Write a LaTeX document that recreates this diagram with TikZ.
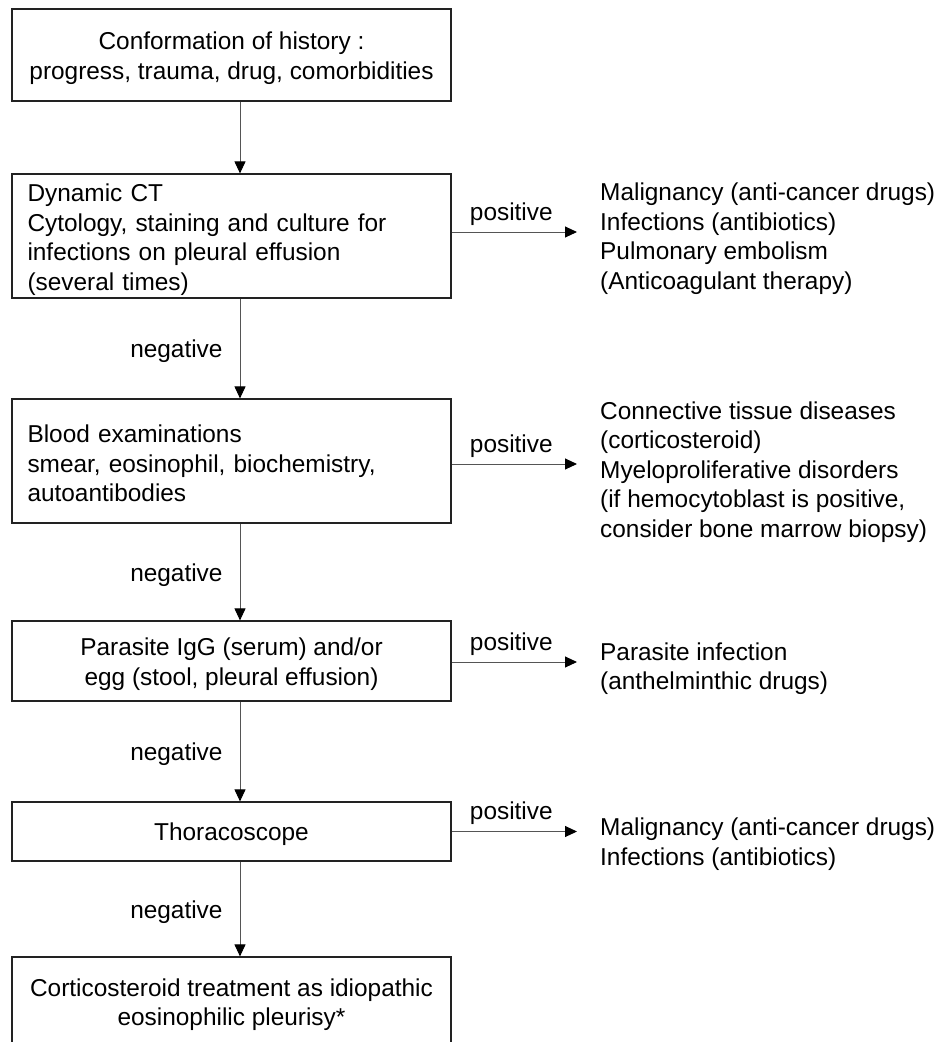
\documentclass[tikz,border=0pt]{standalone}
\usepackage{fontspec}
\setmainfont{Liberation Sans}
\usetikzlibrary{arrows.meta}
\definecolor{boxline}{HTML}{222222}
\definecolor{arrline}{HTML}{555555}
\begin{document}
\begin{tikzpicture}[x=1pt,y=-1pt,
  txt/.style={font=\fontsize{24.4}{29.6}\selectfont},
  boxshape/.style={draw=boxline, line width=1.2pt, rectangle, inner sep=0pt, minimum width=439pt},
  ctext/.style={txt, align=center, inner sep=0pt},
  ltext/.style={txt, align=left, text width=408pt, inner sep=0pt},
  result/.style={txt, align=left, anchor=west, inner xsep=23pt, inner ysep=0pt},
  arr/.style={draw=arrline, line width=1pt, -{Triangle[length=12pt,width=11pt,color=black]}},
  neglabel/.style={txt, midway, anchor=east, inner sep=0pt, xshift=-17pt, yshift=-3pt},
  poslabel/.style={txt, midway, anchor=base, inner sep=0pt, yshift=12pt, xshift=-3pt}]
\fill[white] (0,0) rectangle (940,1042);
\clip (0,0) rectangle (940,1042);
\coordinate (ax) at (240,0);

\node[boxshape, minimum height=92pt] (b1) at (231.5,55) {};
\node[ctext] (t1) at ([yshift=-3pt]b1.center) {Conformation of history :\\ progress, trauma, drug, comorbidities};
\node[boxshape, minimum height=124pt] (b2) at (231.5,236) {};
\node[ltext] (t2) at ([yshift=-3.5pt]b2.center) {Dynamic CT\\ Cytology, staining and culture for\\ infections on pleural effusion\\ (several times)};
\node[boxshape, minimum height=124pt] (b3) at (231.5,461) {};
\node[ltext] (t3) at ([yshift=-2.5pt]b3.center) {Blood examinations\\ smear, eosinophil, biochemistry,\\ autoantibodies};
\node[boxshape, minimum height=80pt] (b4) at (231.5,661) {};
\node[ctext] (t4) at ([yshift=-3pt]b4.center) {Parasite IgG (serum) and/or\\ egg (stool, pleural effusion)};
\node[boxshape, minimum height=59pt] (b5) at (231.5,831.5) {};
\node[ctext] (t5) at ([yshift=-3pt]b5.center) {Thoracoscope};
\node[boxshape, minimum height=90pt] (b6) at (231.5,1002) {};
\node[ctext] (t6) at ([yshift=-2.5pt]b6.center) {Corticosteroid treatment as idiopathic\\ eosinophilic pleurisy*};

\node[result] (r1) at (577,238.5) {Malignancy (anti-cancer drugs)\\ Infections (antibiotics)\\ Pulmonary embolism\\ (Anticoagulant therapy)};
\node[result] (r2) at (577,472) {Connective tissue diseases\\ (corticosteroid)\\ Myeloproliferative disorders\\ (if hemocytoblast is positive,\\ consider bone marrow biopsy)};
\node[result] (r3) at (577,668.5) {Parasite infection\\ (anthelminthic drugs)};
\node[result] (r4) at (577,844) {Malignancy (anti-cancer drugs)\\ Infections (antibiotics)};

\draw[arr] (b1.south -| ax) -- (b2.north -| ax);
\draw[arr] (b2.south -| ax) -- node[neglabel] {negative} (b3.north -| ax);
\draw[arr] (b3.south -| ax) -- node[neglabel] {negative} (b4.north -| ax);
\draw[arr] (b4.south -| ax) -- node[neglabel] {negative} (b5.north -| ax);
\draw[arr] (b5.south -| ax) -- node[neglabel] {negative} (b6.north -| ax);

\draw[arr] ([yshift=4pt]b2.east) -- node[poslabel] {positive} ([yshift=4pt]b2.east -| r1.west);
\draw[arr] ([yshift=-3pt]b3.east) -- node[poslabel] {positive} ([yshift=-3pt]b3.east -| r2.west);
\draw[arr] ([yshift=-1pt]b4.east) -- node[poslabel] {positive} ([yshift=-1pt]b4.east -| r3.west);
\draw[arr] (b5.east) -- node[poslabel] {positive} (b5.east -| r4.west);
\end{tikzpicture}
\end{document}
